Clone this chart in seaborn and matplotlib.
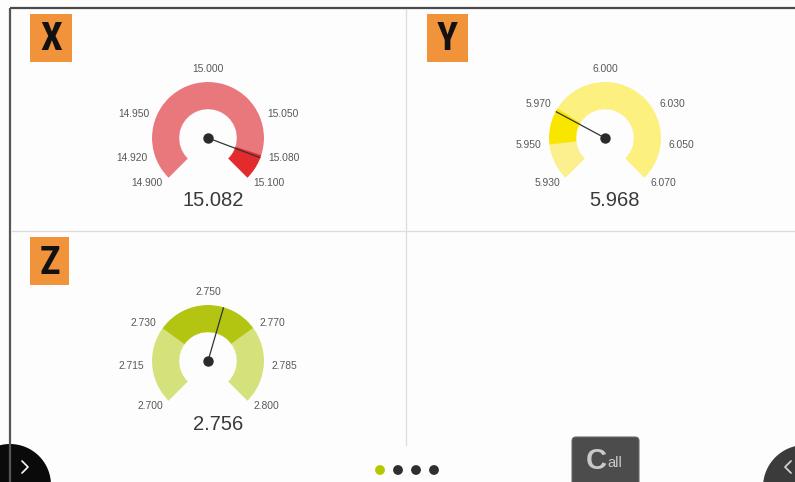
import numpy as np
import matplotlib
matplotlib.use("Agg")
import matplotlib.pyplot as plt
from matplotlib.patches import Rectangle, Circle, FancyBboxPatch
from matplotlib import font_manager
import seaborn as sns

# ---------------- data ----------------
gauge_names = ["X", "Y", "Z"]

x_ticks = [14.900, 14.920, 14.950, 15.000, 15.050, 15.080, 15.100]
x_value = 15.082
x_band_edges = [14.900, 15.080, 15.100]

y_ticks = [5.930, 5.950, 5.970, 6.000, 6.030, 6.050, 6.070]
y_value = 5.968
y_band_edges = [5.930, 5.950, 5.970, 6.070]

z_ticks = [2.700, 2.715, 2.730, 2.750, 2.770, 2.785, 2.800]
z_value = 2.756
z_band_edges = [2.700, 2.730, 2.770, 2.800]

page_dots = ["active", "page", "page", "page"]
button_text = ["C", "all"]

# ---------------- styles ----------------
x_band_colors = ["#e8787c", "#e32a2c"]
y_band_colors = ["#fcf08e", "#f8e600", "#fcf07e"]
z_band_colors = ["#d5e27c", "#b3c510", "#d5e27c"]

sns.set_theme(style="white")
plt.rcParams["font.family"] = ["Liberation Sans", "DejaVu Sans"]

# find a condensed bold face for the box letters, if installed
names = {f.name for f in font_manager.fontManager.ttflist}
letter_family = None
for cand in ["Liberation Sans Narrow", "DejaVu Sans Condensed", "Roboto Condensed",
             "Open Sans Condensed"]:
    if cand in names:
        letter_family = cand
        break
condensed_dejavu = any(("Condensed" in f.fname and "DejaVu" in f.fname)
                       for f in font_manager.fontManager.ttflist)

W, H = 795, 482
fig = plt.figure(figsize=(W / 100, H / 100), dpi=100)
fig.patch.set_facecolor("#fdfdfd")

bg = fig.add_axes([0, 0, 1, 1])
bg.set_xlim(0, W)
bg.set_ylim(H, 0)
bg.axis("off")

# frame and dividers
bg.plot([10, W], [8, 8], color="#4a4a4a", lw=1.6, solid_capstyle="butt")
bg.plot([10, 10], [8, H], color="#555555", lw=1.6, solid_capstyle="butt")
bg.plot([406, 406], [9, 445], color="#dcdcdc", lw=0.9)
bg.plot([11, W], [231, 231], color="#dcdcdc", lw=0.9)

# orange label boxes
boxes = {"X": (30, 14, 42, 48), "Y": (427, 14, 41, 48), "Z": (30, 237, 39, 48)}
for name in gauge_names:
    bx, by, bw, bh = boxes[name]
    bg.add_patch(Rectangle((bx, by), bw, bh, facecolor="#f0933b", edgecolor="none"))
    if letter_family is not None:
        kw = dict(family=[letter_family, "DejaVu Sans"], fontsize=28)
    elif condensed_dejavu:
        kw = dict(family=["DejaVu Sans"], fontstretch="condensed", fontsize=26)
    else:
        kw = dict(family=["Roboto", "DejaVu Sans"], fontsize=26)
    bg.text(bx + bw / 2, by + bh / 2 + 2, name, ha="center", va="center",
            fontweight="bold", color="#111111", **kw)

# gauges
R_PX = 56.0
R_IN = 29.0 / 56.0
centers = {"X": (208, 138), "Y": (605, 138), "Z": (208, 361)}
value_pos = {"X": (213, 201), "Y": (614, 201), "Z": (218, 424)}
gdata = {
    "X": (x_ticks, x_value, x_band_edges, x_band_colors),
    "Y": (y_ticks, y_value, y_band_edges, y_band_colors),
    "Z": (z_ticks, z_value, z_band_edges, z_band_colors),
}

for name in gauge_names:
    ticks, value, edges, colors = gdata[name]
    lo, hi = ticks[0], ticks[-1]

    def ang(v):
        return np.deg2rad(-135 + 270 * (v - lo) / (hi - lo))

    cx, cy = centers[name]
    rect = [(cx - R_PX) / W, 1 - (cy + R_PX) / H, 2 * R_PX / W, 2 * R_PX / H]
    ax = fig.add_axes(rect, projection="polar")
    ax.set_theta_zero_location("N")
    ax.set_theta_direction(-1)
    ax.set_ylim(0, 1)
    ax.axis("off")

    for a, b, c in zip(edges[:-1], edges[1:], colors):
        t0, t1 = ang(a), ang(b)
        ax.bar((t0 + t1) / 2, 1 - R_IN, width=t1 - t0, bottom=R_IN,
               color=c, edgecolor=c, linewidth=0.3, align="center")

    for t in ticks:
        th = ang(t)
        deg = np.rad2deg(th)
        if abs(deg) < 5:
            ha, va = "center", "bottom"
        elif deg < 0:
            ha, va = "right", "center"
        else:
            ha, va = "left", "center"
        ax.text(th, 1.14, f"{t:.3f}", ha=ha, va=va, fontsize=7.4,
                color="#585858", clip_on=False)

    tv = ang(value)
    ax.plot([tv, tv], [0, 1.0], color="#333333", lw=0.9, zorder=5)
    ax.plot([0], [0], "o", color="#2a2a2a", markersize=6.5, zorder=6)

    vx, vy = value_pos[name]
    bg.text(vx, vy, f"{value:.3f}", ha="center", va="center",
            fontsize=14.5, color="#3a3a3a")

# bottom navigation circles
bg.add_patch(Circle((10, 485), 41, facecolor="#0a0a0a", edgecolor="none"))
bg.plot([22, 28, 22], [461, 467, 473], color="white", lw=1.2)
bg.add_patch(Circle((805, 487), 42, facecolor="#3b3b3b", edgecolor="none"))
bg.plot([791, 785, 791], [461, 467, 473], color="#cfcfcf", lw=1.3)

# page dots
dot_x = [380, 398, 416, 434]
dot_colors = ["#b4c800" if d == "active" else "#2f2f2f" for d in page_dots]
bg.scatter(dot_x, [470] * len(dot_x), s=50, c=dot_colors, edgecolors="none", zorder=5)

# Call button
bg.add_patch(FancyBboxPatch((572, 437), 67, 50, boxstyle="round,pad=0,rounding_size=4",
                            facecolor="#4c4c4c", edgecolor="#6a6a6a", lw=0.8))
bg.text(596, 461, button_text[0], ha="center", va="center", fontsize=21,
        fontweight="bold", color="#c9c9c9")
bg.text(607, 463, button_text[1], ha="left", va="center", fontsize=10.5,
        color="#c9c9c9")

fig.savefig("out.png", dpi=100, facecolor=fig.get_facecolor())
